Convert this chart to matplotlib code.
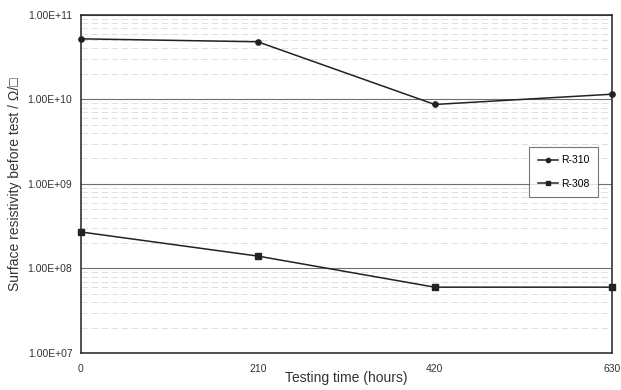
import numpy as np
import matplotlib.pyplot as plt
from matplotlib.ticker import FixedLocator, LogLocator, NullFormatter

plt.rcParams['font.family'] = ['Liberation Sans', 'DejaVu Sans']

hours = [0, 210, 420, 630]
r310 = [5.2e10, 4.8e10, 8.7e9, 1.15e10]
r308 = [2.7e8, 1.4e8, 6.0e7, 6.0e7]
yticks = [1e7, 1e8, 1e9, 1e10, 1e11]
ytick_labels = ['1.00E+07', '1.00E+08', '1.00E+09', '1.00E+10', '1.00E+11']

fig = plt.figure(figsize=(6.21, 3.9), dpi=100)
ax = fig.add_axes([0.130, 0.095, 0.855, 0.867])

ax.set_yscale('log')
ax.set_xlim(0, 630)
ax.set_ylim(1e7, 1e11)

# faint minor grid, like the scanned dashed lines
ax.yaxis.set_minor_locator(LogLocator(base=10, subs=np.arange(2, 10)))
ax.yaxis.set_minor_formatter(NullFormatter())
ax.grid(True, which='minor', axis='y', color='#dadada', linestyle=(0, (8, 4)), linewidth=0.6)
ax.grid(True, which='major', axis='y', color='#707070', linewidth=0.8)

ax.plot(hours, r310, color='#222222', marker='o', markersize=3.8, linewidth=1.1,
        label='R-310', clip_on=False, zorder=5)
ax.plot(hours, r308, color='#222222', marker='s', markersize=3.8, linewidth=1.1,
        label='R-308', clip_on=False, zorder=5)

ax.yaxis.set_major_locator(FixedLocator(yticks))
ax.set_yticklabels(ytick_labels)
ax.set_xticks(hours)
ax.tick_params(axis='both', which='both', length=0, labelsize=7.5, colors='#333333')
ax.tick_params(axis='x', pad=8)
ax.tick_params(axis='y', pad=6)

for s in ax.spines.values():
    s.set_color('#222222')
    s.set_linewidth(1.1)

ax.set_xlabel('Testing time (hours)', fontsize=10, color='#333333', labelpad=-2)
ax.set_ylabel('Surface resistivity before test / Ω/□', fontsize=10, color='#333333', labelpad=4)

leg = ax.legend(loc='upper left', bbox_to_anchor=(0.835, 0.625), fontsize=7.5,
                frameon=True, fancybox=False, handlelength=2.0, borderpad=0.8,
                labelspacing=1.3, handletextpad=0.3, markerscale=0.8)
leg.get_frame().set_edgecolor('#555555')
leg.get_frame().set_linewidth(0.8)

fig.savefig('out.png', dpi=100)
